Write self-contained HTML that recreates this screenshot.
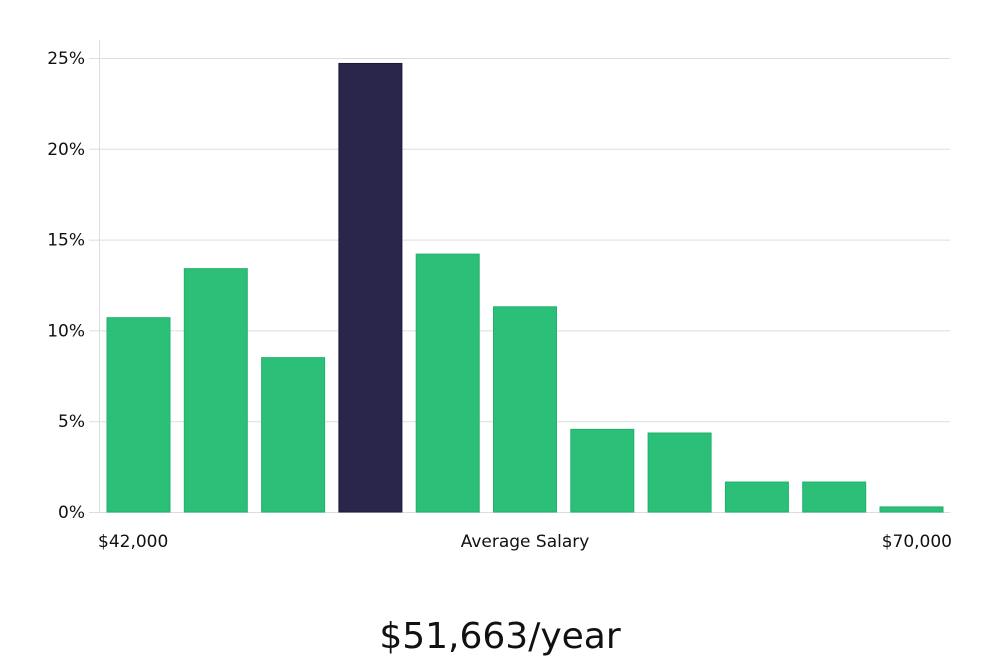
<!DOCTYPE html>
<html><head><meta charset="utf-8"><style>
body{margin:0;background:#fff;width:1000px;height:660px;overflow:hidden;font-family:"DejaVu Sans","Liberation Sans",sans-serif;}
svg text{font-family:"DejaVu Sans","Liberation Sans",sans-serif;}
</style></head><body>
<svg id="chart" width="1000" height="660" xmlns="http://www.w3.org/2000/svg">
<g id="grid"></g><g id="bars"></g><g id="labels"></g>
<line x1="99.5" y1="40" x2="99.5" y2="512" stroke="#ddd" stroke-width="1"/>
<text x="98" y="547" font-size="17" fill="#111">$42,000</text>
<text x="525" y="547" font-size="17" fill="#111" text-anchor="middle">Average Salary</text>
<text x="952" y="547" font-size="17" fill="#111" text-anchor="end">$70,000</text>
<text x="500" y="648" font-size="36" fill="#111" text-anchor="middle" font-family="Liberation Sans">$51,663/year</text>
</svg>
<script>
const values=[10.7,13.4,8.5,24.7,14.2,11.3,4.55,4.35,1.65,1.65,0.28];
const highlight=[false,false,false,true,false,false,false,false,false,false,false];
const ticks=[0,5,10,15,20,25];
const tickLabels=["0%","5%","10%","15%","20%","25%"];
const NS="http://www.w3.org/2000/svg";
function y(v){return 512-v*18.16;}
function x(i){return 107+i*77.3;}
const grid=document.getElementById('grid');
ticks.forEach((t,i)=>{
  const l=document.createElementNS(NS,'line');
  
  
  l.setAttribute('x1',89);l.setAttribute('x2',950);
  l.setAttribute('y1',y(t)+0.5);l.setAttribute('y2',y(t)+0.5);
  l.setAttribute('stroke','#ddd');grid.appendChild(l);
  const tx=document.createElementNS(NS,'text');
  
  
  tx.setAttribute('x',85);tx.setAttribute('y',y(t)+6);
  tx.setAttribute('text-anchor','end');tx.setAttribute('font-size','17');tx.setAttribute('fill','#111');
  tx.textContent=tickLabels[i];grid.appendChild(tx);
});
const bars=document.getElementById('bars');
values.forEach((v,i)=>{
  const r=document.createElementNS(NS,'rect');
  
  
  r.setAttribute('x',x(i));r.setAttribute('width',63);
  r.setAttribute('y',y(v));r.setAttribute('height',512-y(v));
  r.setAttribute('fill',highlight[i]?'#29264a':'#2bbf78');
  r.setAttribute('stroke',highlight[i]?'#1c1a3a':'#22b06c');
  bars.appendChild(r);
});
</script>
</body></html>
